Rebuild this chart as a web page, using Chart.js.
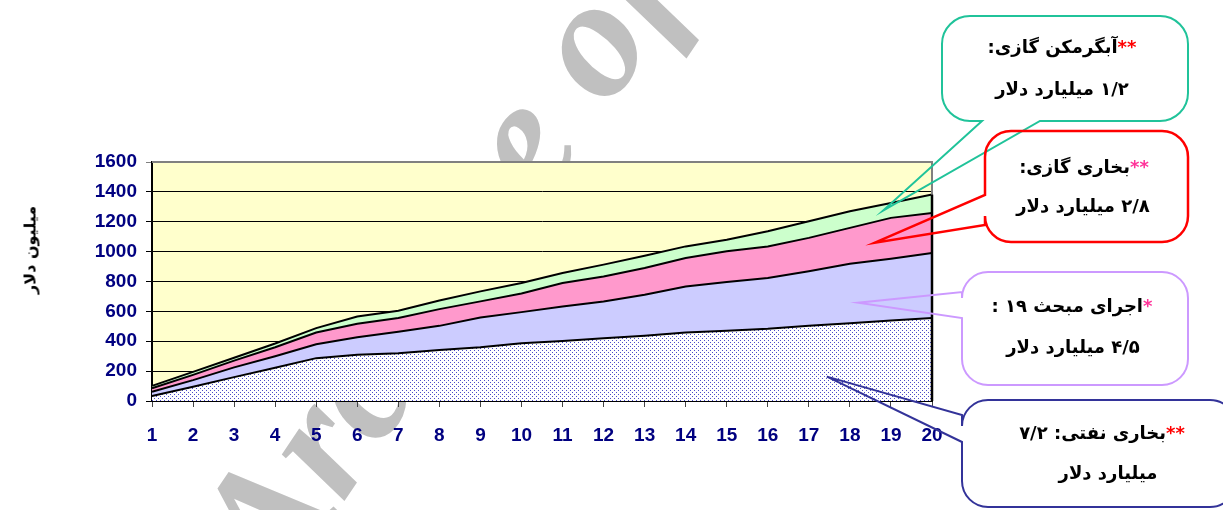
<!DOCTYPE html>
<html>
<head>
<meta charset="utf-8">
<script src="https://cdn.jsdelivr.net/npm/chart.js@4.4.1/dist/chart.umd.min.js"></script>
<style>
  html, body { margin:0; padding:0; background:#fff; }
  #wrap { position:relative; width:1223px; height:510px; overflow:hidden; }
  #wm { position:absolute; left:0; top:0; z-index:0; }
  #c { position:absolute; left:0; top:0; z-index:1; }
  .t { position:absolute; z-index:2; transform:translate(-50%,-50%); white-space:nowrap; direction:rtl;
       font-family:"DejaVu Sans", sans-serif; font-weight:bold; font-size:18px; line-height:1; color:#000; }
  .red { color:#FF0000; }
  .pink { color:#FF3399; }
  #ylab { position:absolute; z-index:2; left:30px; top:250px; transform:translate(-50%,-50%) rotate(-90deg);
          white-space:nowrap; direction:rtl; font-family:"DejaVu Sans", sans-serif; font-weight:bold; font-size:16px; }
</style>
</head>
<body>
<div id="wrap">
  <svg id="wm" width="1223" height="510">
    <text x="279" y="598" transform="rotate(-56 279 598)" font-family="Liberation Serif" font-weight="bold"
          font-style="italic" font-size="170" fill="#C0C0C0">Archive of SID</text>
  </svg>
  <canvas id="c" width="1223" height="510"></canvas>
  <div id="ylab">میلیون دلار</div>

  <div class="t" style="left:1062px;top:47px"><span class="red">**</span>آبگرمکن گازی:</div>
  <div class="t" style="left:1062px;top:89px">۱/۲ میلیارد دلار</div>

  <div class="t" style="left:1084px;top:167px"><span class="pink">**</span>بخاری گازی:</div>
  <div class="t" style="left:1083px;top:206px">۲/۸ میلیارد دلار</div>

  <div class="t" style="left:1072px;top:306px"><span class="pink">*</span>اجرای مبحث ۱۹ :</div>
  <div class="t" style="left:1073px;top:347px">۴/۵ میلیارد دلار</div>

  <div class="t" style="left:1102px;top:433px"><span class="red">**</span>بخاری نفتی: ۷/۲</div>
  <div class="t" style="left:1108px;top:473px">میلیارد دلار</div>
</div>
<script>
// ---- data (million dollars per year) ----
const years = ['1','2','3','4','5','6','7','8','9','10','11','12','13','14','15','16','17','18','19','20'];
const oilHeater      = [34, 96, 160, 222, 287, 309, 320, 342, 360, 387, 402, 420, 436, 458, 470, 483, 503, 521, 539, 555];
const code19         = [28, 44, 65, 78, 93, 118, 143, 161, 199, 208, 231, 246, 275, 309, 326, 340, 365, 398, 414, 436];
const gasHeater      = [23, 35, 45, 60, 78, 90, 92, 112, 108, 125, 157, 168, 179, 190, 206, 212, 224, 240, 273, 268];
const gasWaterHeater = [16, 20, 20, 25, 30, 49, 49, 58, 67, 70, 67, 79, 83, 78, 78, 101, 111, 111, 100, 123];
const yTicks = [0, 200, 400, 600, 800, 1000, 1200, 1400, 1600];

// callout annotations (pointer tips in data units: category index, value)
const callouts = [
  { box:[942, 16, 1188, 121], rad:28, side:'bottom', base:[982, 1040], tip:{x:17.81, y:1275}, color:'#20C39A', w:2 },
  { box:[985, 131, 1188, 242], rad:26, side:'left', base:[195, 225], tip:{x:17.61, y:1060}, color:'#FF0000', w:2.5 },
  { box:[962, 272, 1188, 385], rad:26, side:'left', base:[292, 318], tip:{x:17.2, y:658}, color:'#CC99FF', w:2 },
  { box:[962, 400, 1236, 507], rad:26, side:'left', base:[415, 442], tip:{x:16.44, y:163}, color:'#333399', w:2 }
];

function dotPattern() {
  const c = document.createElement('canvas');
  c.width = 4; c.height = 4;
  const g = c.getContext('2d');
  g.fillStyle = '#ffffff'; g.fillRect(0, 0, 4, 4);
  g.fillStyle = '#4B4BC8';
  g.fillRect(0, 0, 1, 1); g.fillRect(2, 2, 1, 1);
  return g.createPattern(c, 'repeat');
}

const framePlugin = {
  id: 'frame',
  beforeDraw(chart) {
    const { ctx, chartArea: a } = chart;
    ctx.save();
    ctx.fillStyle = '#FFFFCC';
    ctx.fillRect(a.left, a.top, a.right - a.left, a.bottom - a.top);
    ctx.restore();
  },
  afterDatasetsDraw(chart) {
    const { ctx, chartArea: a, scales } = chart;
    ctx.save();
    ctx.strokeStyle = '#808080'; ctx.lineWidth = 2;
    ctx.beginPath();
    ctx.moveTo(a.left, a.top); ctx.lineTo(a.right, a.top); ctx.lineTo(a.right, a.bottom);
    ctx.stroke();
    const last = years.length - 1;
    const total = oilHeater[last] + code19[last] + gasHeater[last] + gasWaterHeater[last];
    const xr = scales.x.getPixelForValue(last);
    ctx.strokeStyle = '#000'; ctx.lineWidth = 2.5;
    ctx.beginPath();
    ctx.moveTo(xr, scales.y.getPixelForValue(0)); ctx.lineTo(xr, scales.y.getPixelForValue(total));
    ctx.stroke();
    ctx.restore();
  },
  afterDraw(chart) {
    const { ctx, scales } = chart;
    ctx.save();
    ctx.lineJoin = 'miter';
    callouts.forEach(c => {
      const [l, t, r, b] = c.box, rad = c.rad;
      const tx = scales.x.getPixelForValue(c.tip.x), ty = scales.y.getPixelForValue(c.tip.y);
      ctx.strokeStyle = c.color; ctx.lineWidth = c.w;
      ctx.beginPath();
      ctx.moveTo(l + rad, t);
      ctx.lineTo(r - rad, t);
      ctx.arcTo(r, t, r, t + rad, rad);
      ctx.lineTo(r, b - rad);
      ctx.arcTo(r, b, r - rad, b, rad);
      if (c.side === 'bottom') {
        ctx.lineTo(c.base[1], b);
        ctx.lineTo(tx, ty);
        ctx.lineTo(c.base[0], b);
        ctx.lineTo(l + rad, b);
        ctx.arcTo(l, b, l, b - rad, rad);
        ctx.lineTo(l, t + rad);
      } else {
        ctx.lineTo(l + rad, b);
        ctx.arcTo(l, b, l, b - rad, rad);
        ctx.lineTo(l, c.base[1]);
        ctx.lineTo(tx, ty);
        ctx.lineTo(l, c.base[0]);
        ctx.lineTo(l, t + rad);
      }
      ctx.arcTo(l, t, l + rad, t, rad);
      ctx.closePath();
      ctx.stroke();
    });
    ctx.restore();
  }
};

const tickFont = { family: 'Liberation Sans', size: 19, weight: 'bold' };

new Chart(document.getElementById('c'), {
  type: 'line',
  data: {
    labels: years,
    datasets: [
      { data: oilHeater, backgroundColor: dotPattern(), fill: 'origin' },
      { data: code19, backgroundColor: '#CCCCFF', fill: '-1' },
      { data: gasHeater, backgroundColor: '#FF99CC', fill: '-1' },
      { data: gasWaterHeater, backgroundColor: '#CCFFCC', fill: '-1' }
    ]
  },
  options: {
    responsive: false,
    animation: false,
    layout: { padding: { top: 162, right: 291, bottom: 49, left: 0 } },
    plugins: { legend: { display: false }, tooltip: { enabled: false } },
    elements: {
      point: { radius: 0, hoverRadius: 0 },
      line: { tension: 0, borderWidth: 2, borderColor: '#000' }
    },
    scales: {
      x: {
        offset: false,
        grid: { display: true, drawOnChartArea: false, drawTicks: true, tickLength: 6, color: '#444', lineWidth: 1 },
        border: { color: '#000', width: 2 },
        ticks: { color: '#000080', font: tickFont, padding: 17, maxRotation: 0, autoSkip: false },
        afterFit(s) { s.height = 60; }
      },
      y: {
        stacked: true,
        min: 0, max: 1600,
        afterBuildTicks(s) { s.ticks = yTicks.map(v => ({ value: v })); },
        grid: { color: ctx => (ctx.tick && ctx.tick.value === 1600 ? '#808080' : '#000'), lineWidth: 1, tickLength: 6 },
        border: { color: '#000', width: 2 },
        ticks: { color: '#000080', font: tickFont, padding: 9, callback: v => String(v) },
        afterFit(s) { s.width = 152; }
      }
    }
  },
  plugins: [framePlugin]
});
</script>
</body>
</html>
